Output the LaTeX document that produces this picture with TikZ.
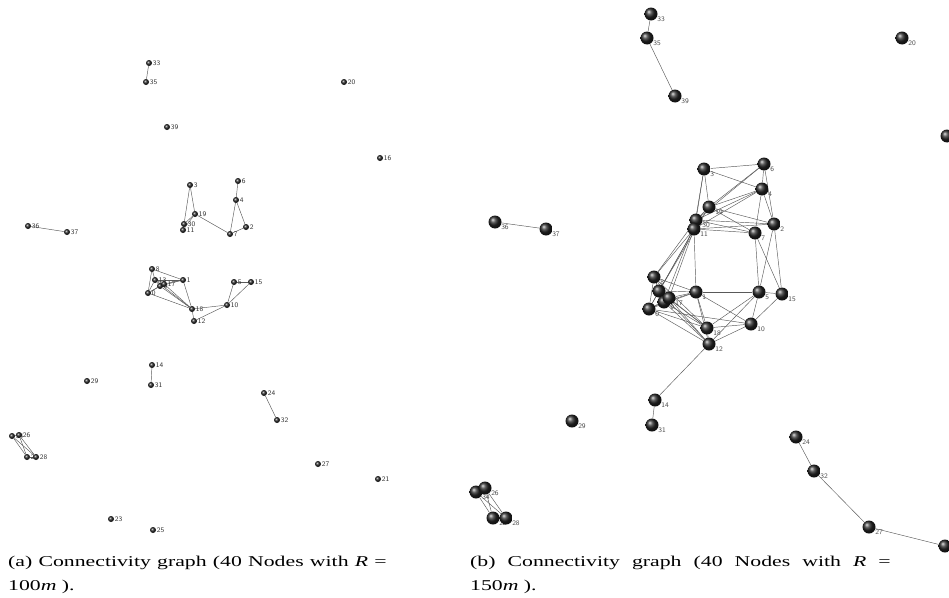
\documentclass[tikz,border=0pt]{standalone}
\usepackage{fontspec}
\setmainfont{Liberation Serif}
\usetikzlibrary{backgrounds}
\begin{document}
\begin{tikzpicture}[x=1pt,y=-1pt,
  anode/.style={circle,inner sep=0pt,minimum size=6pt,shading=ball,ball color=black!85},
  bnode/.style={circle,inner sep=0pt,minimum size=13pt,shading=ball,ball color=black!85},
  alab/.style={font=\fontsize{7}{7}\selectfont\sffamily,text=black!80,inner sep=0.5pt},
  blab/.style={font=\fontsize{7}{7}\selectfont\sffamily,text=black!70,inner sep=0pt},
  edge/.style={draw=black!65,line width=0.45pt},
  captext/.style={font=\fontsize{15}{18}\selectfont,inner sep=0pt}]
\useasboundingbox (0,0) rectangle (949,597);
\clip (0,0) rectangle (949,597);
% ---------- graph (a) ----------
\foreach \n/\x/\y in {33/149/63, 35/146/82, 20/344/82, 39/167/127, 16/380/158,
  3/190/185, 6/238/181, 4/236/200, 19/195/214, 30/184/224, 11/183/230, 7/230/234,
  2/246/227, 36/28/226, 37/67/232, 8/152/269, 13/155/280, 9/160/286, 17/164/284,
  0/148/293, 1/183/280, 5/234/282, 15/251/282, 18/192/309, 10/227/305, 12/194/321,
  14/152/365, 31/151/385, 29/87/381, 24/264/393, 32/277/420, 34/12/436, 26/19/435,
  22/27/457, 28/36/457, 27/318/464, 21/378/479, 23/111/519, 25/153/530}
  \node[anode,label={[alab]right:\n}] (a\n) at (\x,\y) {};
\begin{pgfonlayer}{background}
\foreach \u/\v in {33/35, 36/37, 3/30, 3/19, 19/30, 19/11, 30/11, 19/7, 6/4, 4/7,
  4/2, 2/7, 8/1, 8/13, 8/0, 13/1, 13/17, 13/9, 13/0, 9/17, 9/0, 17/0, 9/1, 17/1,
  1/18, 13/18, 9/18, 17/18, 0/18, 18/10, 18/12, 12/10, 10/5, 10/15, 5/15, 14/31,
  24/32, 34/26, 34/22, 34/28, 26/22, 26/28, 22/28}
  \draw[edge] (a\u) -- (a\v);
\end{pgfonlayer}
% ---------- graph (b) ----------
\foreach \n/\x/\y in {33/651/14, 35/647/38, 39/675/96, 20/902/38, 16/947/136,
  3/704/169, 6/764/164, 4/762/189, 19/709/207, 30/696/220, 11/694/229, 2/774/224,
  7/755/233, 36/495/222, 37/546/229, 8/654/277, 13/659/291, 9/664/302, 17/669/298,
  0/649/309, 1/696/292, 5/759/292, 15/782/294, 18/707/328, 10/751/324, 12/709/344,
  14/655/400, 31/652/425, 29/572/421, 24/796/437, 32/814/471, 27/869/527,
  21/945/546, 34/476/492, 26/485/488, 22/493/518, 28/506/518}
  \node[bnode,label={[blab]-25:\n}] (b\n) at (\x,\y) {};
\begin{pgfonlayer}{background}
\foreach \u/\v in {33/35, 35/39, 36/37,
  3/6, 3/4, 3/19, 3/30, 3/11, 6/4, 6/19, 6/30, 4/19, 4/30, 4/11, 4/2, 4/7, 6/2,
  19/2, 19/7, 30/2, 30/7, 11/7, 11/2, 30/11, 19/30, 19/11,
  7/5, 7/15, 2/5, 2/15, 11/1,
  11/8, 11/13, 11/17, 11/0, 30/8, 30/9, 19/13,
  8/13, 8/9, 8/17, 8/0, 13/9, 13/17, 13/0, 9/17, 9/0, 17/0,
  8/1, 13/1, 9/1, 17/1, 0/1,
  8/18, 13/18, 9/18, 17/18, 0/18, 13/12, 9/12, 17/12, 0/12, 0/10,
  1/18, 1/12, 1/10, 1/5, 5/15, 5/18, 5/10, 5/12, 15/10, 18/10, 18/12, 10/12,
  12/14, 14/31, 24/32, 32/27, 27/21,
  34/26, 34/22, 34/28, 26/22, 26/28, 22/28}
  \draw[edge] (b\u) -- (b\v);
\end{pgfonlayer}
% ---------- captions ----------
\node[captext,anchor=base west] (capa1) at (8,566)
  {\scalebox{1.45}[1]{\makebox[261pt][s]{(a) Connectivity graph (40 Nodes with \textit{R} =}}};
\node[captext,anchor=base west] (capa2) at (8,590)
  {\scalebox{1.45}[1]{100\textit{m}\ ).}};
\node[captext,anchor=base west] (capb1) at (470,566)
  {\scalebox{1.45}[1]{\makebox[290pt][s]{(b) Connectivity graph (40 Nodes with \textit{R} =}}};
\node[captext,anchor=base west] (capb2) at (470,590)
  {\scalebox{1.45}[1]{150\textit{m}\ ).}};
\end{tikzpicture}
\end{document}
